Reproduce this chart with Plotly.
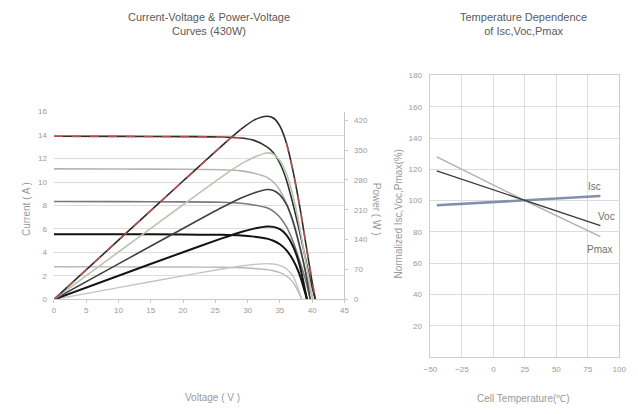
import plotly.graph_objects as go

# ---- Current-Voltage & Power-Voltage curves (430W module) ----
# Irradiance levels 1000 / 800 / 600 / 400 / 200 W/m2
v_1000 = [0, 10, 20, 26, 29, 31, 33, 34, 35, 36, 37, 38, 39, 40, 40.5]
i_1000 = [13.9, 13.89, 13.87, 13.84, 13.75, 13.55, 13.0, 12.5, 11.6, 10.2, 8.2, 5.9, 3.4, 1.0, 0]
p_1000 = [0, 138.9, 277.4, 359.8, 398.8, 420.1, 429.0, 425.0, 406.0, 367.2, 303.4, 224.2, 132.6, 40.0, 0]

v_800 = [0, 10, 20, 26, 29, 31, 33, 34, 35, 36, 37, 38, 39, 40.1]
i_800 = [11.12, 11.11, 11.09, 11.05, 10.95, 10.75, 10.4, 10.0, 9.3, 8.2, 6.6, 4.6, 2.3, 0]
p_800 = [0, 111.1, 221.8, 287.3, 317.6, 333.3, 343.2, 340.0, 325.5, 295.2, 244.2, 174.8, 89.7, 0]

v_600 = [0, 10, 20, 26, 29, 31, 33, 34, 35, 36, 37, 38, 39, 39.7]
i_600 = [8.34, 8.33, 8.31, 8.28, 8.2, 8.05, 7.8, 7.5, 7.0, 6.2, 5.0, 3.4, 1.6, 0]
p_600 = [0, 83.3, 166.2, 215.3, 237.8, 249.6, 257.4, 255.0, 245.0, 223.2, 185.0, 129.2, 62.4, 0]

v_400 = [0, 10, 20, 26, 29, 31, 33, 34, 35, 36, 37, 38, 39.2]
i_400 = [5.56, 5.55, 5.53, 5.5, 5.45, 5.35, 5.18, 5.0, 4.7, 4.2, 3.4, 2.2, 0]
p_400 = [0, 55.5, 110.6, 143.0, 158.1, 165.9, 170.9, 170.0, 164.5, 151.2, 125.8, 83.6, 0]

v_200 = [0, 10, 20, 26, 29, 31, 33, 34, 35, 36, 37, 38.4]
i_200 = [2.78, 2.77, 2.76, 2.74, 2.7, 2.64, 2.54, 2.44, 2.28, 2.0, 1.5, 0]
p_200 = [0, 27.7, 55.2, 71.2, 78.3, 81.8, 83.8, 83.0, 79.8, 72.0, 55.5, 0]

volt_ticks = [0, 5, 10, 15, 20, 25, 30, 35, 40, 45]
current_ticks = [0, 2, 4, 6, 8, 10, 12, 14, 16]
power_ticks = [0, 70, 140, 210, 280, 350, 420]

# ---- Temperature dependence ----
cell_temp = [-45, 25, 85]
isc_pct = [97, 100, 103]
voc_pct = [119, 100, 84]
pmax_pct = [128, 100, 77]
temp_ticks = [-50, -25, 0, 25, 50, 75, 100]
pct_ticks = [20, 40, 60, 80, 100, 120, 140, 160, 180]

FONT = "Liberation Sans, Arial, sans-serif"
TXT = "#5a5a5a"
TICK = "#9a9a9a"
GRID = "#dcdcdc"

fig = go.Figure()

curves = [
    (v_200, i_200, p_200, "#b8b8b8", "#c4c4c4", 1.4),
    (v_400, i_400, p_400, "#111111", "#151515", 2.0),
    (v_600, i_600, p_600, "#7a7a7a", "#404040", 1.6),
    (v_800, i_800, p_800, "#b5b5b5", "#b9c5b0", 1.6),
    (v_1000, i_1000, p_1000, "#303030", "#2a2a2a", 1.6),
]
for v, i, p, ci, cp, w in curves:
    fig.add_trace(go.Scatter(x=v, y=i, mode="lines", line=dict(color=ci, width=w, shape="spline", smoothing=0.8),
                             xaxis="x", yaxis="y", showlegend=False, hoverinfo="skip"))
    fig.add_trace(go.Scatter(x=v, y=p, mode="lines", line=dict(color=cp, width=w, shape="spline", smoothing=0.8),
                             xaxis="x", yaxis="y2", showlegend=False, hoverinfo="skip"))

# red trace segments over the 1000 W/m2 curves
red_iv = [(v, i) for v, i in zip(v_1000, i_1000) if v <= 29]
red_pv = [(v, p) for v, p in zip(v_1000, p_1000) if v <= 29]
red_fall = [(v, p) for v, p in zip(v_1000, p_1000) if v >= 36]
for pts, ax in [(red_iv, "y"), (red_pv, "y2"), (red_fall, "y2")]:
    fig.add_trace(go.Scatter(x=[a for a, _ in pts], y=[b for _, b in pts], mode="lines",
                             line=dict(color="rgba(225,90,90,0.75)", width=1.6, dash="dash"),
                             xaxis="x", yaxis=ax, showlegend=False, hoverinfo="skip"))

# temperature lines
fig.add_trace(go.Scatter(x=cell_temp, y=isc_pct, mode="lines", line=dict(color="#8390ad", width=2.6),
                         xaxis="x3", yaxis="y3", showlegend=False, hoverinfo="skip"))
fig.add_trace(go.Scatter(x=cell_temp, y=pmax_pct, mode="lines", line=dict(color="#b0b0b0", width=1.5),
                         xaxis="x3", yaxis="y3", showlegend=False, hoverinfo="skip"))
fig.add_trace(go.Scatter(x=cell_temp, y=voc_pct, mode="lines", line=dict(color="#3a3a3a", width=1.3),
                         xaxis="x3", yaxis="y3", showlegend=False, hoverinfo="skip"))

tickfont = dict(family=FONT, size=8, color=TICK)

fig.update_layout(
    width=638, height=414,
    margin=dict(l=0, r=0, t=0, b=0),
    paper_bgcolor="white", plot_bgcolor="white",
    font=dict(family=FONT, color=TXT),
    xaxis=dict(domain=[48 / 638, 345 / 638], range=[0, 45], tickvals=volt_ticks,
               showgrid=False, zeroline=False, showline=True, linecolor="#c8c8c8", linewidth=1,
               ticks="outside", ticklen=3, tickcolor="#c8c8c8", tickfont=tickfont, anchor="y"),
    yaxis=dict(domain=[1 - 302 / 414, 1 - 110 / 414], range=[0, 16], tickvals=current_ticks,
               showgrid=True, gridcolor=GRID, zeroline=False, showline=False,
               tickfont=tickfont, anchor="x", ticklabelstandoff=6),
    yaxis2=dict(domain=[1 - 302 / 414, 1 - 110 / 414], range=[0, 440], tickvals=power_ticks,
                overlaying="y", side="right", anchor="x", showgrid=False, zeroline=False,
                showline=True, linecolor="#c8c8c8", ticks="outside", ticklen=3, tickcolor="#c8c8c8",
                tickfont=tickfont, ticklabelstandoff=4),
    xaxis3=dict(domain=[433 / 638, 626 / 638], range=[-50, 100], tickvals=temp_ticks,
                showgrid=True, gridcolor=GRID, zeroline=False, showline=True, mirror=True,
                linecolor="#cfcfcf", tickfont=tickfont, anchor="y3", ticklabelstandoff=4),
    yaxis3=dict(domain=[1 - 361 / 414, 1 - 73 / 414], range=[0, 180], tickvals=pct_ticks,
                showgrid=True, gridcolor=GRID, zeroline=False, showline=True, mirror=True,
                linecolor="#cfcfcf", tickfont=tickfont, anchor="x3", ticklabelstandoff=6),
)

ann = [
    dict(text="Current-Voltage & Power-Voltage<br>Curves (430W)", x=207 / 638, y=1 - 5 / 414,
         yanchor="top", font=dict(size=11, color=TXT)),
    dict(text="Temperature Dependence<br>of Isc,Voc,Pmax", x=528 / 638, y=1 - 5 / 414,
         yanchor="top", font=dict(size=11, color=TXT)),
    dict(text="Current ( A )", x=20 / 638, y=1 - 210 / 414, textangle=-90,
         font=dict(size=10, color=TICK)),
    dict(text="Power ( W )", x=378 / 638, y=1 - 210 / 414, textangle=90,
         font=dict(size=10, color=TICK)),
    dict(text="Voltage ( V )", x=210 / 638, y=1 - 402 / 414, font=dict(size=10, color=TICK)),
    dict(text="Normalized Isc,Voc,Pmax(%)", x=400 / 638, y=1 - 215 / 414, textangle=-90,
         font=dict(size=10, color=TICK)),
    dict(text="Cell Temperature(℃)", x=528 / 638, y=1 - 403 / 414, font=dict(size=10, color=TICK)),
]
for a in ann:
    a.update(xref="paper", yref="paper", showarrow=False)
    a.setdefault("xanchor", "center")
    a.setdefault("yanchor", "middle")
    fig.add_annotation(**a)

for label, tx, vy in [("Isc", 80, 109), ("Voc", 90, 90), ("Pmax", 85, 69)]:
    fig.add_annotation(text=label, x=tx, y=vy, xref="x3", yref="y3", showarrow=False,
                       font=dict(size=10, color="#707070"))

fig.write_html("out.html")
